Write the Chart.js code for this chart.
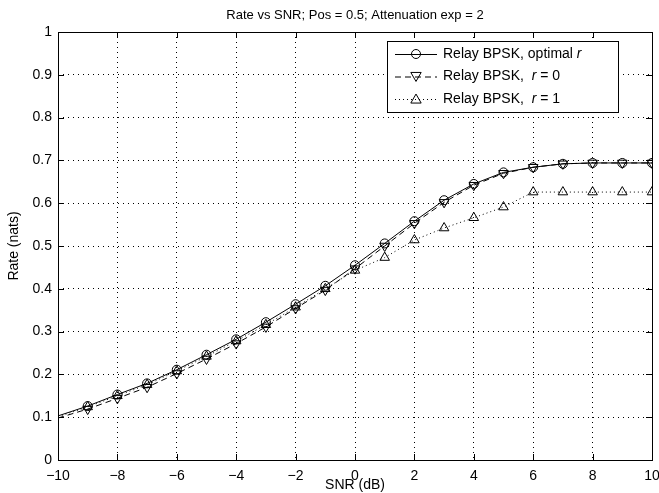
<!DOCTYPE html>
<html>
<head>
<meta charset="utf-8">
<script src="https://cdn.jsdelivr.net/npm/chart.js@4.4.1/dist/chart.umd.min.js"></script>
<style>
html,body{margin:0;padding:0;background:#fff;}
#wrap{width:659px;height:493px;position:relative;}
</style>
</head>
<body>
<div id="wrap"><canvas id="c" width="659" height="493"></canvas></div>
<script>
const snr = [-10,-9,-8,-7,-6,-5,-4,-3,-2,-1,0,1,2,3,4,5,6,7,8,9,10];
const rateOptimal = [0.103,0.126,0.153,0.179,0.211,0.246,0.282,0.322,0.364,0.407,0.455,0.506,0.558,0.607,0.645,0.672,0.684,0.692,0.694,0.694,0.694];
const rateR0 = [0.098,0.119,0.144,0.170,0.202,0.236,0.272,0.311,0.354,0.397,0.447,0.500,0.553,0.602,0.642,0.670,0.684,0.692,0.694,0.694,0.694];
const rateR1 = [0.101,0.124,0.150,0.176,0.208,0.242,0.278,0.316,0.357,0.400,0.443,0.473,0.514,0.542,0.566,0.591,0.626,0.626,0.626,0.626,0.626];
const xTicks = [-10,-8,-6,-4,-2,0,2,4,6,8,10];
const yTicks = [0,0.1,0.2,0.3,0.4,0.5,0.6,0.7,0.8,0.9,1];
const titleText = 'Rate vs SNR; Pos = 0.5; Attenuation exp = 2';
const xTitle = 'SNR (dB)';
const yTitle = 'Rate (nats)';
const legendLabels = [['Relay BPSK, optimal ', 'r', ''], ['Relay BPSK,  ', 'r', ' = 0'], ['Relay BPSK,  ', 'r', ' = 1']];

const FONT = '"Liberation Sans", Arial, Helvetica, sans-serif';

function pts(arr){ return snr.map((x,i)=>({x:x,y:arr[i]})); }
const circR = snr.map(x => x === -10 ? 0 : 4.5);
const triR = snr.map(x => x === -10 ? 0 : 5.5);

const frame = {
  id:'frame',
  afterDraw(chart){
    const {ctx, chartArea:a, scales:{x,y}} = chart;
    ctx.save();
    ctx.strokeStyle='#000'; ctx.lineWidth=1;
    ctx.strokeRect(Math.round(a.left)+0.5, Math.round(a.top)+0.5, Math.round(a.right-a.left), Math.round(a.bottom-a.top));
    ctx.beginPath();
    const tl = 6;
    xTicks.forEach(v=>{ const px=Math.round(x.getPixelForValue(v))+0.5;
      ctx.moveTo(px,a.bottom); ctx.lineTo(px,a.bottom-tl);
      ctx.moveTo(px,a.top); ctx.lineTo(px,a.top+tl); });
    yTicks.forEach(v=>{ const py=Math.round(y.getPixelForValue(v))+0.5;
      ctx.moveTo(a.left,py); ctx.lineTo(a.left+tl,py);
      ctx.moveTo(a.right,py); ctx.lineTo(a.right-tl,py); });
    ctx.stroke();
    // title
    ctx.fillStyle='#000';
    ctx.font='13px '+FONT; ctx.textAlign='center'; ctx.textBaseline='middle';
    ctx.fillText(titleText,(a.left+a.right)/2,15);
    ctx.font='14px '+FONT;
    ctx.fillText(xTitle,(a.left+a.right)/2,485);
    ctx.save(); ctx.translate(14,(a.top+a.bottom)/2); ctx.rotate(-Math.PI/2);
    ctx.fillText(yTitle,0,0); ctx.restore();
    // legend
    const lx=387, ly=41, lw=231, lh=71;
    ctx.fillStyle='#fff'; ctx.fillRect(lx,ly,lw,lh);
    ctx.strokeRect(lx+0.5,ly+0.5,lw,lh);
    const styles=[[],[6,4],[1,3]];
    const markers=['circle','triangleDown','triangle'];
    for(let i=0;i<3;i++){
      const cy = ly+13+i*22.5;
      ctx.setLineDash(styles[i]);
      ctx.beginPath(); ctx.moveTo(lx+8,cy+0.5); ctx.lineTo(lx+50,cy+0.5); ctx.stroke();
      ctx.setLineDash([]);
      drawMarker(ctx,markers[i],lx+29,cy);
      let tx = lx+56;
      ctx.textAlign='left'; ctx.fillStyle='#000';
      const parts = legendLabels[i];
      ctx.font='14px '+FONT; ctx.fillText(parts[0],tx,cy); tx+=ctx.measureText(parts[0]).width;
      ctx.font='italic 14px '+FONT; ctx.fillText(parts[1],tx,cy); tx+=ctx.measureText(parts[1]).width;
      ctx.font='14px '+FONT; ctx.fillText(parts[2],tx,cy);
    }
    ctx.restore();
  }
};
function drawMarker(ctx,type,x,y){
  ctx.save(); ctx.beginPath(); ctx.lineWidth=1; ctx.strokeStyle='#000';
  const r=4.5;
  if(type==='circle'){ ctx.arc(x,y,r,0,Math.PI*2); }
  else if(type==='triangle'){ ctx.moveTo(x,y-r*1.1); ctx.lineTo(x+r*1.15,y+r*0.9); ctx.lineTo(x-r*1.15,y+r*0.9); ctx.closePath(); }
  else { ctx.moveTo(x,y+r*1.1); ctx.lineTo(x+r*1.15,y-r*0.9); ctx.lineTo(x-r*1.15,y-r*0.9); ctx.closePath(); }
  ctx.stroke(); ctx.restore();
}

const fmt = v => { const s = Number(Number(v).toFixed(1)).toString(); return s.replace('-', '\u2212'); };

new Chart(document.getElementById('c'), {
  type:'line',
  data:{ datasets:[
    {label:'optimal', data:pts(rateOptimal), borderColor:'#000', borderWidth:1, pointStyle:'circle', pointRadius:circR, pointBorderColor:'#000', pointBackgroundColor:'rgba(0,0,0,0)', pointBorderWidth:1, tension:0},
    {label:'r=0', data:pts(rateR0), borderColor:'#000', borderWidth:1, borderDash:[6,4], pointStyle:'triangle', rotation:180, pointRadius:triR, pointBorderColor:'#000', pointBackgroundColor:'rgba(0,0,0,0)', pointBorderWidth:1, tension:0},
    {label:'r=1', data:pts(rateR1), borderColor:'#000', borderWidth:1, borderDash:[1,3], pointStyle:'triangle', pointRadius:triR, pointBorderColor:'#000', pointBackgroundColor:'rgba(0,0,0,0)', pointBorderWidth:1, tension:0}
  ]},
  options:{
    responsive:false, animation:false, devicePixelRatio:1,
    layout:{padding:{top:32,right:7,left:0,bottom:0}},
    plugins:{legend:{display:false}, title:{display:false}, tooltip:{enabled:false}},
    scales:{
      x:{type:'linear', min:-10, max:10,
        afterBuildTicks: s => { s.ticks = xTicks.map(v=>({value:v})); },
        afterFit: s => { s.height = 33; s.paddingLeft = 0; s.paddingRight = 0; },
        grid:{color:'#000', lineWidth:1, drawTicks:false},
        border:{display:false, dash:[1,4]},
        ticks:{color:'#000', font:{family:FONT,size:14}, padding:8, callback:fmt, maxRotation:0}
      },
      y:{type:'linear', min:0, max:1,
        afterBuildTicks: s => { s.ticks = yTicks.map(v=>({value:v})); },
        afterFit: s => { s.width = 58; s.paddingTop = 0; s.paddingBottom = 0; },
        grid:{color:'#000', lineWidth:1, drawTicks:false},
        border:{display:false, dash:[1,4]},
        ticks:{color:'#000', font:{family:FONT,size:14}, padding:6, callback:fmt}
      }
    }
  },
  plugins:[frame]
});
</script>
</body>
</html>
